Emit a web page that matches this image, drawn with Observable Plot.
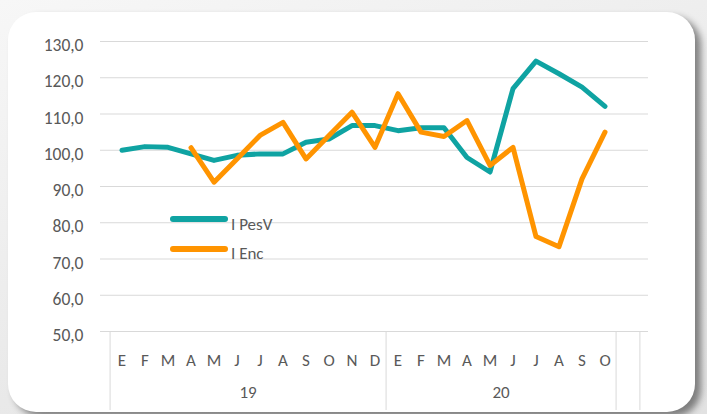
<!DOCTYPE html>
<html><head><meta charset="utf-8">
<script src="https://cdn.jsdelivr.net/npm/d3@7"></script>
<script src="https://cdn.jsdelivr.net/npm/@observablehq/plot@0.6"></script>
<style>
html,body{margin:0;padding:0;}
body{width:707px;height:414px;overflow:hidden;position:relative;background:linear-gradient(160deg,#f7f7f7 0%,#e9e9e9 60%,#e2e2e2 100%);font-family:Carlito,Lato,"Open Sans",sans-serif;}
#card{position:absolute;left:8px;top:12px;width:687px;height:400px;background:#fff;border-radius:28px;box-shadow:6px 5px 7px rgba(0,0,0,0.45);}
#chart{position:absolute;left:0;top:0;}
.legline{position:absolute;height:6px;width:58px;border-radius:3px;}
.legtext{position:absolute;font-size:17px;color:#595959;line-height:17px;}
</style></head>
<body>
<div id="card"></div>
<div id="chart"></div>
<div class="legline" style="left:170px;top:216px;background:#0fa3a2"></div>
<div class="legtext" style="left:231px;top:216px">I PesV</div>
<div class="legline" style="left:170px;top:246px;background:#ff9400"></div>
<div class="legtext" style="left:231px;top:245px">I Enc</div>
<script>
const months2019 = ["E","F","M","A","M","J","J","A","S","O","N","D"];
const months2020 = ["E","F","M","A","M","J","J","A","S","O"];
const years = ["19","20"];
const pesV = [100.0,101.0,100.8,99.0,97.2,98.6,99.0,99.0,102.2,103.1,106.8,106.8,105.4,106.2,106.2,98.0,94.0,117.0,124.6,121.1,117.4,112.1];
const enc  = [null,null,null,100.7,91.2,97.6,104.1,107.7,97.6,104.1,110.5,100.8,115.6,105.0,103.8,108.2,95.8,100.8,76.2,73.4,92.1,105.0];
const yTicks = [50,60,70,80,90,100,110,120,130];
const seriesNames = ["I PesV","I Enc"];
const colors = ["#0fa3a2","#ff9400"];

const W=707,H=414,mL=100,mR=59,mT=41,mB=83;
const keys = [...months2019.map((m,i)=>"19-"+i), ...months2020.map((m,i)=>"20-"+i), "xx-0"];
const labelOf = {};
months2019.forEach((m,i)=>labelOf["19-"+i]=m);
months2020.forEach((m,i)=>labelOf["20-"+i]=m);
labelOf["xx-0"]="";
const step = (W-mL-mR)/keys.length;
const rows = pesV.map((v,i)=>({k:keys[i], pes:v, enc:enc[i]}));
const yearLabels = [{k:keys[6], t:years[0]}, {k:keys[12+5], t:years[1]}];
const fmt = d => d.toFixed(1).replace(".",",");
const ext = 410-(H-mB);

const chart = Plot.plot({
  width:W, height:H, marginLeft:mL, marginRight:mR, marginTop:mT, marginBottom:mB,
  style:{background:"transparent", fontFamily:"Carlito, Lato, 'Open Sans', sans-serif", fontSize:"17px", color:"#595959", overflow:"visible"},
  x:{type:"band", domain:keys, padding:0, axis:null},
  y:{domain:[50,130], axis:null},
  marks:[
    Plot.gridY(yTicks, {stroke:"#d9d9d9", strokeOpacity:1, strokeWidth:1}),
    Plot.axisY(yTicks, {tickSize:0, tickPadding:17, tickFormat:fmt, fill:"#595959", fontSize:17.5, dy:4, label:null}),
    Plot.axisX({tickSize:0, tickPadding:22, tickFormat:k=>labelOf[k], fill:"#595959", fontSize:17, label:null}),
    Plot.ruleX([keys[0], keys[12], keys[22]], {x:d=>d, dx:-step/2, stroke:"#d9d9d9", strokeOpacity:1, insetTop:H-mT-mB, insetBottom:-ext}),
    Plot.ruleX([keys[22]], {x:d=>d, dx:step/2, stroke:"#d9d9d9", strokeOpacity:1, insetTop:H-mT-mB, insetBottom:-ext}),
    Plot.text(yearLabels, {x:"k", text:"t", dx:-step/2, frameAnchor:"bottom", dy:66, fill:"#595959", fontSize:17}),
    Plot.line(rows, {x:"k", y:"pes", stroke:colors[0], strokeWidth:5, strokeLinejoin:"round", strokeLinecap:"round"}),
    Plot.line(rows.filter(d=>d.enc!=null), {x:"k", y:"enc", stroke:colors[1], strokeWidth:5, strokeLinejoin:"round", strokeLinecap:"round"})
  ]
});
document.getElementById("chart").appendChild(chart);
</script>
</body></html>
